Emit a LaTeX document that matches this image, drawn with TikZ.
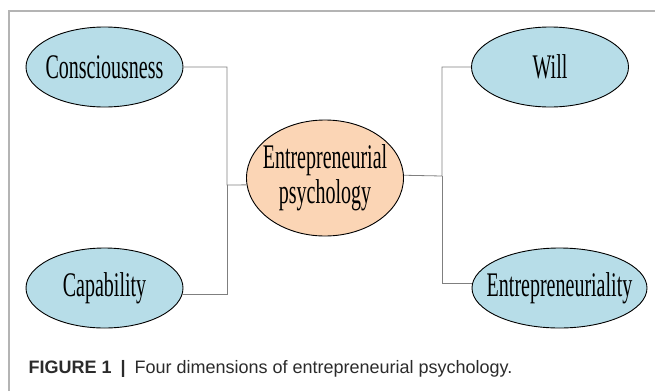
\documentclass[tikz,border=0pt]{standalone}
\usepackage{fontspec}
\usepackage{tikz}
\usetikzlibrary{positioning,shapes.geometric}

\newfontfamily\blobfont[FakeStretch=0.58]{Liberation Serif}
\newfontfamily\capfont{Liberation Sans}
\definecolor{dimblue}{HTML}{B7DDE8}
\definecolor{psypeach}{HTML}{FBD5B5}
\definecolor{framegray}{HTML}{B4B4B4}
\definecolor{linkgray}{HTML}{7F7F7F}
\definecolor{captext}{HTML}{2B2B2B}

\begin{document}
\begin{tikzpicture}[x=1pt, y=1pt,
    blob/.style = {ellipse, draw=black, line width=0.9pt, inner xsep=-12pt,
                   inner ysep=-2pt, minimum height=80pt,
                   font=\blobfont\fontsize{34.5}{35}\selectfont},
    dim/.style = {blob, fill=dimblue, minimum width=157pt},
    psy/.style = {blob, fill=psypeach, minimum width=157pt, minimum height=116pt,
                  align=center},
    link/.style = {draw=linkgray, line width=0.8pt},
    frame/.style = {draw=framegray, line width=1.3pt}]

      \useasboundingbox (0,0) rectangle (655,-391);
      \draw[frame] (9,-391) -- (9,-11) -- (655,-11);

      \node[dim] (cons) at (104.5,-67) {Consciousness};
      \node[dim, on grid, below = 221pt of cons] (cap) {Capability};

      \node[psy] (psych) at (325,-178) {Entrepreneurial\\psychology};

      \node[dim, on grid, right = 445.5pt of cons] (will) {Will};
      \node[dim, minimum width=175pt] (ent) at (559.5,-288) {Entrepreneuriality};

      \coordinate (jl) at (227,-185);
      \coordinate (jr) at (442,-176);

      \draw[link] (cons.east) -| (jl) -- (psych.185);
      \draw[link] (cap.-5) -| (jl);
      \draw[link] (psych.2) -- (jr) |- (will.west);
      \draw[link] (jr) |- (ent.177);

      \node[anchor=base west, text=captext, font=\capfont\fontsize{18}{20}\selectfont]
        (caption) at (25,-373)
        {\textbf{FIGURE 1}\hspace{9pt}\textbf{|}\hspace{9pt}Four dimensions of entrepreneurial psychology.};
  \end{tikzpicture}
\end{document}
